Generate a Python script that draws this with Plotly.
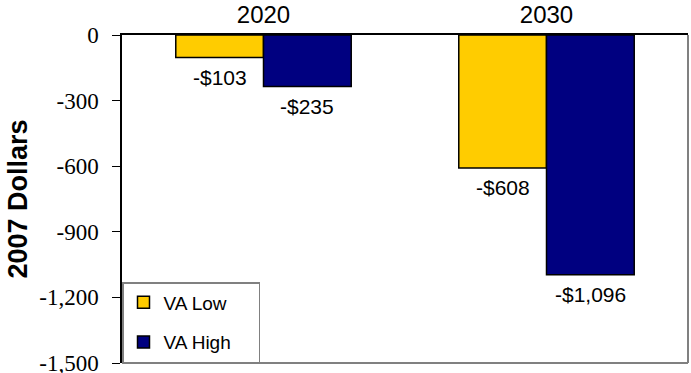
import plotly.graph_objects as go

categories = ["2020", "2030"]
va_low = [-103, -608]
va_high = [-235, -1096]
tick_vals = [0, -300, -600, -900, -1200, -1500]
tick_text = ["0", "-300", "-600", "-900", "-1,200", "-1,500"]

SANS = "Liberation Sans"
SERIF = "Times New Roman"
BARGAP = 0.38

def money(v):
    return "-$" + f"{abs(v):,}"

fig = go.Figure()
fig.add_trace(go.Bar(
    x=categories, y=va_low, name="VA Low\u00a0\u00a0\u00a0\u00a0\u00a0", legendgroup="a",
    marker=dict(color="#FFCC00", line=dict(color="black", width=1.5)),
))
fig.add_trace(go.Bar(
    x=categories, y=va_high, name="VA High\u00a0\u00a0\u00a0", legendgroup="b",
    marker=dict(color="#000080", line=dict(color="black", width=1.5)),
))

# value labels below each bar end
bw = (1 - BARGAP) / 2
annotations = []
for series, off in ((va_low, -bw / 2), (va_high, bw / 2)):
    for i, v in enumerate(series):
        annotations.append(dict(
            x=i + off, y=v, xref="x", yref="y", text=money(v), showarrow=False,
            yanchor="middle", yshift=-20,
            font=dict(family=SANS, size=21, color="black"),
        ))

fig.update_layout(
    width=691, height=373,
    margin=dict(l=122, r=3, t=35, b=10),
    paper_bgcolor="white", plot_bgcolor="white",
    barmode="group", bargap=BARGAP, bargroupgap=0,
    font=dict(family=SERIF, color="black", size=23),
    xaxis=dict(side="top", showline=True, linecolor="black", linewidth=2,
               tickfont=dict(family=SANS, size=24), automargin=False,
               ticks="", showgrid=False, ticklabelstandoff=0),
    yaxis=dict(range=[-1500, 0], tickvals=tick_vals, ticktext=tick_text,
               showline=True, linecolor="black", linewidth=1.5,
               ticks="outside", ticklen=8, tickcolor="black",
               showgrid=False, zeroline=False, ticklabeloverflow="allow",
               ticklabelstandoff=9, automargin=False,
               title=dict(text="<b>2007 Dollars</b>", standoff=4,
                          font=dict(family=SANS, size=27))),
    legend=dict(x=0, y=0, xanchor="left", yanchor="bottom",
                bordercolor="#808080", borderwidth=1.5, bgcolor="white",
                font=dict(family=SANS, size=19),
                tracegroupgap=12, itemwidth=30),
    showlegend=True,
    annotations=annotations,
    shapes=[
        dict(type="line", xref="paper", yref="paper", x0=0, x1=1, y0=0, y1=0,
             line=dict(color="#808080", width=2)),
        dict(type="line", xref="paper", yref="paper", x0=1, x1=1, y0=0, y1=1,
             line=dict(color="#808080", width=2)),
    ],
)

fig.write_html("out.html")
